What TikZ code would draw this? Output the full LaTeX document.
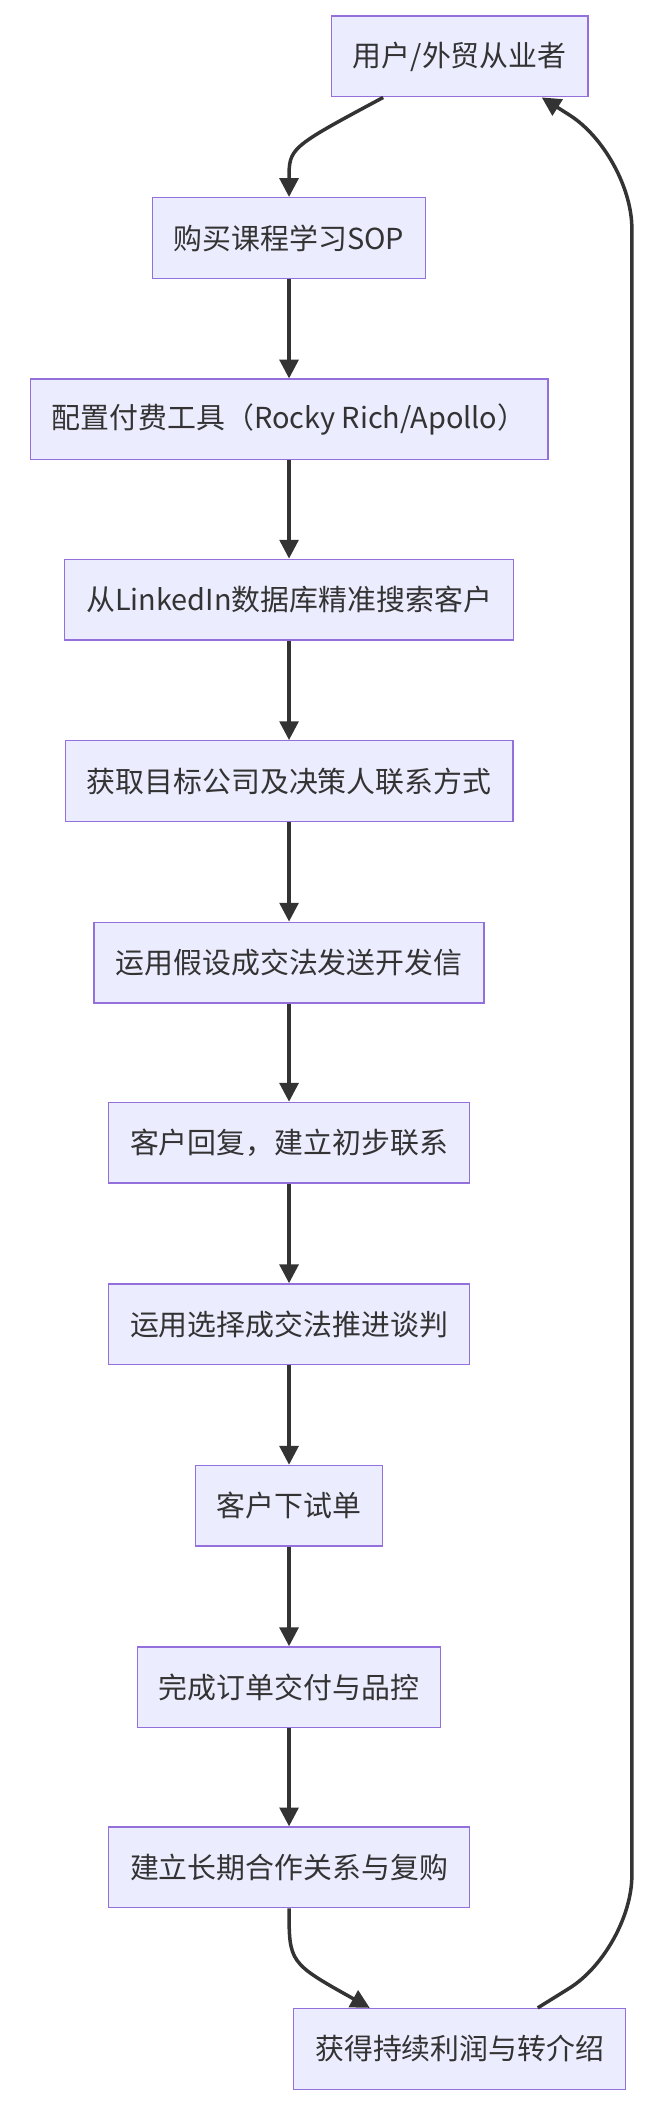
\documentclass[tikz,border=0pt]{standalone}
\usepackage{fontspec}
\setmainfont{Noto Sans CJK SC}
\usetikzlibrary{arrows.meta}
\definecolor{boxfill}{HTML}{ECECFF}
\definecolor{boxline}{HTML}{9370DB}
\definecolor{edgecol}{HTML}{333333}
\tikzset{
  stage/.style={draw=boxline, fill=boxfill, line width=1pt, minimum height=60, inner xsep=16,
    font=\fontsize{21.5}{25}\selectfont, text=edgecol},
  edge/.style={draw=edgecol, line width=2.6pt, -{Triangle[length=14pt,width=14pt]}}
}
\begin{document}
\begin{tikzpicture}[x=1pt,y=-1pt]
\useasboundingbox (0,0) rectangle (485,1568);
%步骤
\node[stage] (user) at (342,42) {用户/外贸从业者};
\node[stage] (buy) at (215,177) {购买课程学习SOP};
\node[stage] (tool) at (215,312) {配置付费工具（Rocky Rich/Apollo）};
\node[stage] (search) at (215,446) {从LinkedIn数据库精准搜索客户};
\node[stage] (contact) at (215,581) {获取目标公司及决策人联系方式};
\node[stage] (mail) at (215,716) {运用假设成交法发送开发信};
\node[stage] (reply) at (215,850) {客户回复，建立初步联系};
\node[stage] (talk) at (215,985) {运用选择成交法推进谈判};
\node[stage] (trial) at (215,1120) {客户下试单};
\node[stage] (deliver) at (215,1255) {完成订单交付与品控};
\node[stage] (repeat) at (215,1389) {建立长期合作关系与复购};
\node[stage] (profit) at (342,1524) {获得持续利润与转介绍};
%连线
\draw[edge] ([xshift=-57]user.south) .. controls (215,110) .. (buy.north);
\foreach \a/\b in {buy/tool,tool/search,search/contact,contact/mail,mail/reply,reply/talk,talk/trial,trial/deliver,deliver/repeat}
  \draw[edge] (\a) -- (\b);
\draw[edge] (repeat.south) .. controls (215,1460) .. ([xshift=-67]profit.north);
\draw[edge, rounded corners=55] ([xshift=58]profit.north) -- (470,1450) -- (470,115) -- ([xshift=61]user.south);
\end{tikzpicture}
\end{document}
